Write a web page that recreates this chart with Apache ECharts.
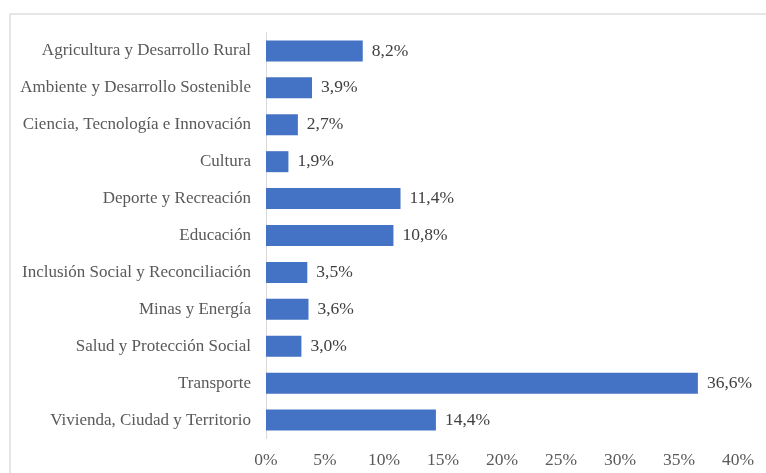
<!DOCTYPE html>
<html>
<head>
<meta charset="utf-8">
<script src="https://cdn.jsdelivr.net/npm/echarts@6/dist/echarts.min.js"></script>
<style>
  html, body { margin: 0; padding: 0; background: #fff; }
  #chart { width: 766px; height: 473px; }
</style>
</head>
<body>
<div id="chart"></div>
<script>
// Sectors, top to bottom as shown
const sectors = [
  'Agricultura y Desarrollo Rural',
  'Ambiente y Desarrollo Sostenible',
  'Ciencia, Tecnología e Innovación',
  'Cultura',
  'Deporte y Recreación',
  'Educación',
  'Inclusión Social y Reconciliación',
  'Minas y Energía',
  'Salud y Protección Social',
  'Transporte',
  'Vivienda, Ciudad y Territorio'
];
// Share of each sector, in percent
const shares = [8.2, 3.9, 2.7, 1.9, 11.4, 10.8, 3.5, 3.6, 3.0, 36.6, 14.4];
// Horizontal axis ticks (percent)
const axisMin = 0, axisMax = 40, axisStep = 5;

const fontFamily = '"Liberation Serif", "Times New Roman", serif';
const fmtPct = v => v.toFixed(1).replace('.', ',') + '%';

const chart = echarts.init(document.getElementById('chart'), null, { renderer: 'canvas' });
chart.setOption({
  animation: false,
  backgroundColor: '#ffffff',
  graphic: [{
    type: 'rect',
    left: 7.5, top: 11.5,
    shape: { x: 0, y: 0, width: 800, height: 500 },
    style: { fill: 'none', stroke: '#dedede', lineWidth: 1.5 },
    silent: true
  }],
  grid: { left: 266, right: 28, top: 32.5, bottom: 34.5, containLabel: false },
  xAxis: {
    type: 'value',
    min: axisMin, max: axisMax, interval: axisStep,
    axisLine: { show: false },
    axisTick: { show: false },
    splitLine: { show: false },
    axisLabel: {
      margin: 13,
      color: '#595959',
      fontFamily: fontFamily,
      fontSize: 17.5,
      formatter: v => v + '%'
    }
  },
  yAxis: {
    type: 'category',
    data: sectors,
    inverse: true,
    axisLine: { show: true, lineStyle: { color: '#d9d9d9', width: 1 } },
    axisTick: { show: false },
    axisLabel: {
      margin: 15,
      color: '#595959',
      fontFamily: fontFamily,
      fontSize: 17
    }
  },
  series: [{
    type: 'bar',
    data: shares,
    barWidth: 21,
    itemStyle: { color: '#4472C4' },
    label: {
      show: true,
      position: 'right',
      distance: 9,
      color: '#404040',
      fontFamily: fontFamily,
      fontSize: 17.5,
      formatter: p => fmtPct(p.value)
    }
  }]
});
</script>
</body>
</html>
